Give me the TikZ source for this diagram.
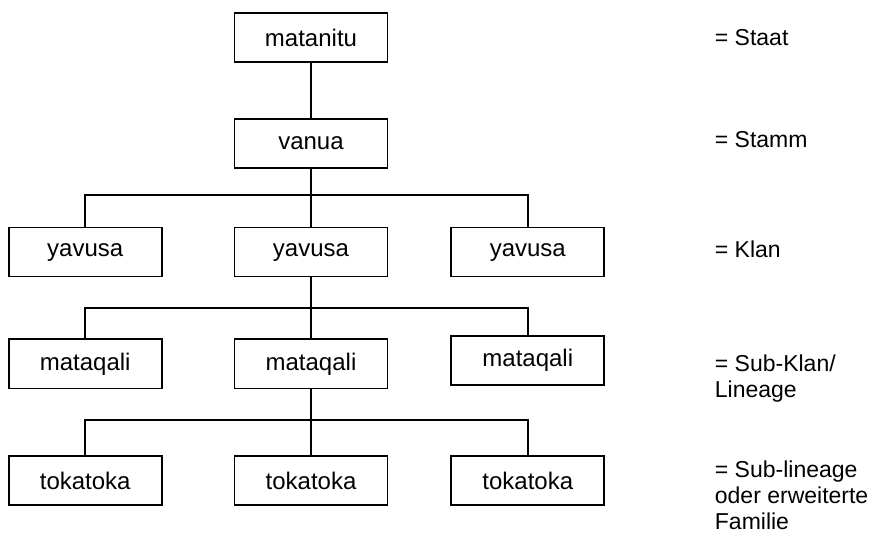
\documentclass[tikz,border=0pt]{standalone}
\usepackage{fontspec}
\setmainfont{Liberation Sans}
\usetikzlibrary{positioning,calc}
\tikzset{
  unit/.style={draw, minimum width=76.5pt, minimum height=24.5pt, inner sep=0pt,
               font=\fontsize{12}{14}\selectfont},
  gloss/.style={inner sep=0pt, align=left}
}

\begin{document}
\begin{tikzpicture}[x=0.5pt, y=-0.5pt, line width=0.9pt,
                    font=\fontsize{11.5}{13}\selectfont]
                    \useasboundingbox (0,0) rectangle (877,539);

                    \node (matanitu) [unit] at (311,37.5)              {matanitu};
                    \node (vanua)    [unit, below=27.5pt of matanitu]  {vanua};
                    \node (yav2)     [unit, below=29pt of vanua]       {yavusa};
                    \node (yav1)     [unit, left=35.5pt of yav2]       {yavusa};
                    \node (yav3)     [unit, right=31pt of yav2]        {yavusa};
                    \node (mat2)     [unit, below=30.5pt of yav2]      {mataqali};
                    \node (mat1)     [unit, left=35.5pt of mat2]       {mataqali};
                    \node (mat3)     [unit, right=31pt of mat2, yshift=1.75pt] {mataqali};
                    \node (tok2)     [unit, below=33pt of mat2]        {tokatoka};
                    \node (tok1)     [unit, left=35.5pt of tok2]       {tokatoka};
                    \node (tok3)     [unit, right=31pt of tok2]        {tokatoka};

                    \node (staat)    [gloss, anchor=base west]  at (714,46)  {= Staat};
                    \node (stamm)    [gloss, anchor=base west]  at (714,148) {= Stamm};
                    \node (klan)     [gloss, anchor=base west]  at (714,258) {= Klan};
                    \node (subklan)  [gloss, anchor=north west] at (714,354) {= Sub-Klan/\\Lineage};
                    \node (sublin)   [gloss, anchor=north west] at (714,460) {= Sub-lineage\\oder erweiterte\\Familie};

                    \coordinate (k1) at ($(vanua.south)!.45!(yav2.north)$);
                    \coordinate (k2) at ($(yav2.south)!.5!(mat2.north)$);
                    \coordinate (k3) at ($(mat2.south)!.47!(tok2.north)$);

                    \draw (matanitu) -- (vanua) -- (yav2) -- (mat2) -- (tok2);
                    \draw (yav1) |- (k1) -| (yav3);
                    \draw (mat1) |- (k2) -| (mat3);
                    \draw (tok1) |- (k3) -| (tok3);
                \end{tikzpicture}
\end{document}
